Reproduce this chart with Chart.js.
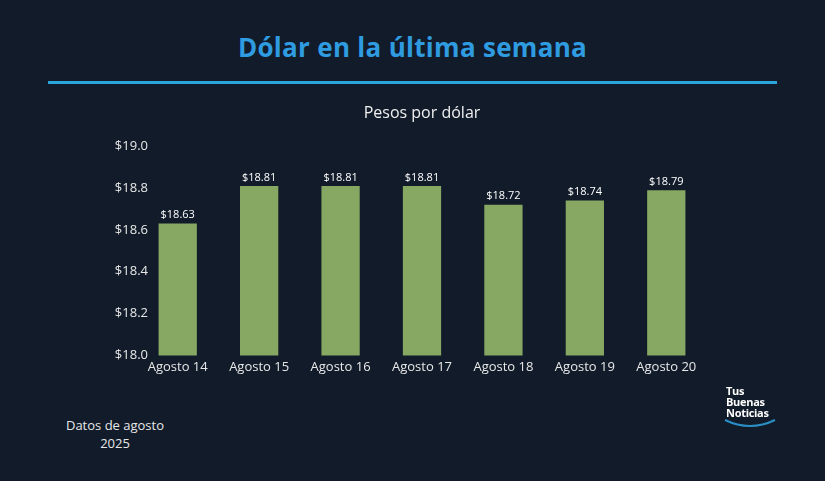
<!DOCTYPE html>
<html><head><meta charset="utf-8">
<script src="https://cdn.jsdelivr.net/npm/chart.js@4"></script>
<style>
body{margin:0;background:#111b29;width:825px;height:481px;overflow:hidden;font-family:Poppins,"Open Sans",sans-serif;position:relative}
#title{position:absolute;top:29px;left:0;width:825px;text-align:center;color:#2f9be0;font-size:26px;font-weight:bold;font-family:"Open Sans",sans-serif;letter-spacing:0.3px}
#rule{position:absolute;top:81px;left:48px;width:729px;height:3px;background:#2ba6dc}
#wrap{position:absolute;left:0;top:95px;width:825px;height:290px}
#note{position:absolute;left:40px;top:416px;width:150px;text-align:center;color:#e8e8e8;font-size:13px;line-height:18px;font-family:"Open Sans",sans-serif}
#logo{position:absolute;left:726px;top:385px;color:#fff;font-size:11px;line-height:11px;font-weight:bold;font-family:"Open Sans",sans-serif;letter-spacing:-0.3px}
</style></head><body>
<div id="title">Dólar en la última semana</div>
<div id="rule"></div>
<div id="wrap"><canvas id="c"></canvas></div>
<div id="note">Datos de agosto<br>2025</div>
<div id="logo">Tus<br>Buenas<br>Noticias
<svg width="54" height="10" style="display:block;margin-left:-3px"><path d="M2 2 Q27 14 52 2" stroke="#2a8fc4" stroke-width="2" fill="none"/></svg></div>
<script>
const labels = ["Agosto 14","Agosto 15","Agosto 16","Agosto 17","Agosto 18","Agosto 19","Agosto 20"];
const values = [18.63,18.81,18.81,18.81,18.72,18.74,18.79];
const yTicks = [18.0,18.2,18.4,18.6,18.8,19.0];

// value labels above bars + y tick labels drawn slightly inside the plot area
const valueLabels = {
  id: "valueLabels",
  afterDatasetsDraw(chart) {
    const ctx = chart.ctx;
    const ys = chart.scales.y;
    ctx.save();
    ctx.fillStyle = "#ffffff";
    ctx.font = "11px 'Open Sans', sans-serif";
    ctx.textAlign = "center";
    ctx.textBaseline = "bottom";
    chart.getDatasetMeta(0).data.forEach((bar, i) => {
      ctx.fillText("$" + values[i].toFixed(2), bar.x, bar.y - 3);
    });
    ctx.fillStyle = "#e8e8e8";
    ctx.font = "13px 'Open Sans', sans-serif";
    ctx.textAlign = "right";
    ctx.textBaseline = "middle";
    yTicks.forEach(v => {
      ctx.fillText("$" + v.toFixed(1), chart.chartArea.left + 11, ys.getPixelForValue(v));
    });
    ctx.restore();
  }
};

new Chart(document.getElementById("c"), {
  type: "bar",
  data: { labels: labels, datasets: [{ data: values, backgroundColor: "#86a862", barPercentage: 0.47, categoryPercentage: 1 }] },
  options: {
    responsive: true, maintainAspectRatio: false, animation: false,
    layout: { padding: { left: 137, right: 118, top: 0, bottom: 6 } },
    plugins: {
      legend: { display: false }, tooltip: { enabled: false },
      title: { display: true, text: "Pesos por dólar", color: "#f0f0f0", font: { size: 16, family: "'Open Sans', sans-serif", weight: "normal" }, padding: { top: 9, bottom: 23 } }
    },
    scales: {
      x: { grid: { display: false, drawTicks: false }, border: { display: false }, ticks: { color: "#e8e8e8", font: { size: 13, family: "'Open Sans', sans-serif" }, padding: 4 } },
      y: { min: 18, max: 19, grid: { display: false, drawTicks: false }, border: { display: false },
        ticks: { display: false, stepSize: 0.2 }, afterFit: s => { s.width = 0; } }
    }
  },
  plugins: [valueLabels]
});
</script>
</body></html>
